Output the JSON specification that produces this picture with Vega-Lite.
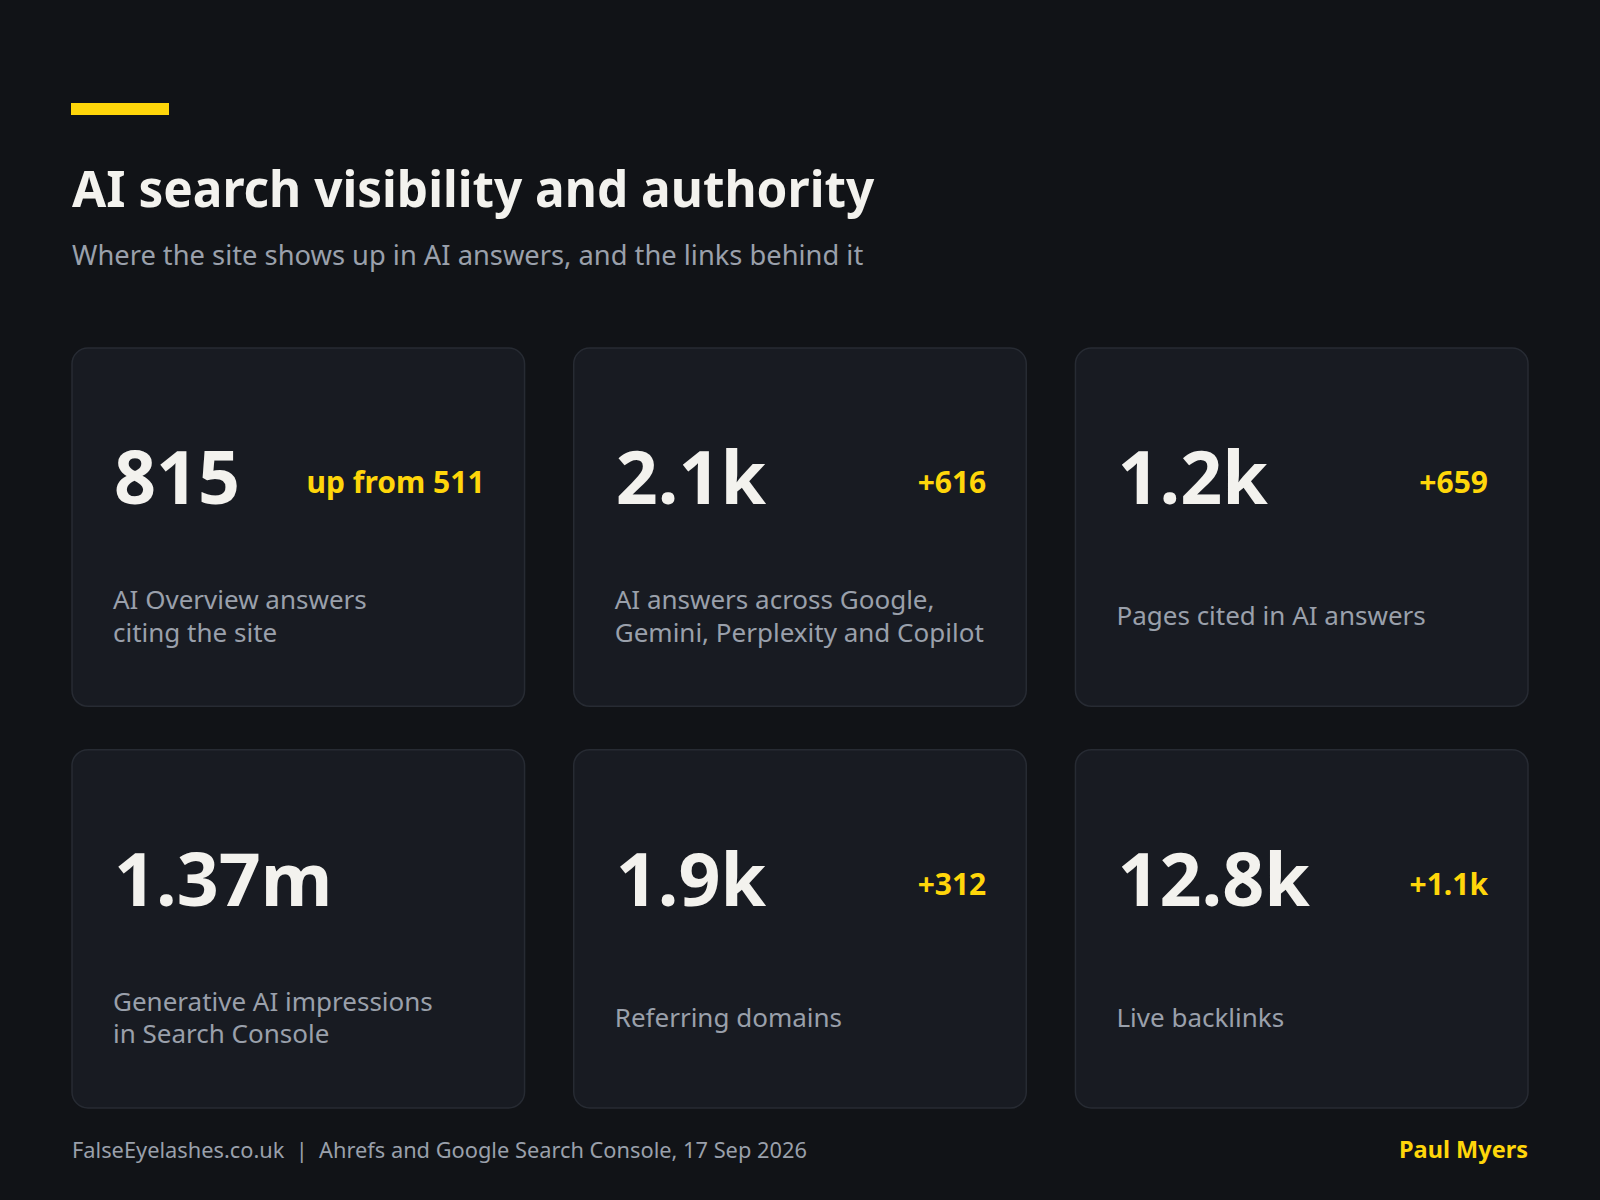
{
  "$schema": "https://vega.github.io/schema/vega-lite/v6.json",
  "width": 1600,
  "height": 1200,
  "padding": 0,
  "autosize": "none",
  "background": "#111317",
  "config": {
    "view": {"stroke": null},
    "font": "Noto Sans",
    "text": {"font": "Noto Sans"}
  },
  "datasets": {
    "cards": [
      {"col": 0, "row": 0, "value": "815", "delta": "up from 511", "label": "AI Overview answers\nciting the site"},
      {"col": 1, "row": 0, "value": "2.1k", "delta": "+616", "label": "AI answers across Google,\nGemini, Perplexity and Copilot"},
      {"col": 2, "row": 0, "value": "1.2k", "delta": "+659", "label": "Pages cited in AI answers"},
      {"col": 0, "row": 1, "value": "1.37m", "delta": "", "label": "Generative AI impressions\nin Search Console"},
      {"col": 1, "row": 1, "value": "1.9k", "delta": "+312", "label": "Referring domains"},
      {"col": 2, "row": 1, "value": "12.8k", "delta": "+1.1k", "label": "Live backlinks"}
    ],
    "heading": [
      {"title": "AI search visibility and authority",
       "subtitle": "Where the site shows up in AI answers, and the links behind it",
       "source": "FalseEyelashes.co.uk\u00a0\u00a0|\u00a0\u00a0Ahrefs and Google Search Console, 17 Sep 2026",
       "author": "Paul Myers"}
    ]
  },
  "layer": [
    {
      "data": {"name": "cards"},
      "mark": {"type": "rect", "fill": "#181b22", "stroke": "#272b33", "strokeWidth": 1.5, "cornerRadius": 16},
      "encoding": {
        "x": {"field": "col", "type": "ordinal", "axis": null,
              "scale": {"range": [72, 1528], "paddingInner": 0.098, "paddingOuter": 0}},
        "y": {"field": "row", "type": "ordinal", "axis": null,
              "scale": {"range": [348, 1108], "paddingInner": 0.108, "paddingOuter": 0}}
      }
    },
    {
      "data": {"name": "cards"},
      "mark": {"type": "text", "align": "left", "baseline": "alphabetic", "fontSize": 73.5, "fontWeight": "bold", "color": "#f3f2ee", "dx": 42, "dy": 156},
      "encoding": {
        "x": {"field": "col", "type": "ordinal", "bandPosition": 0},
        "y": {"field": "row", "type": "ordinal", "bandPosition": 0},
        "text": {"field": "value"}
      }
    },
    {
      "data": {"name": "cards"},
      "mark": {"type": "text", "align": "right", "baseline": "alphabetic", "fontSize": 30, "fontWeight": "bold", "color": "#ffd60a", "dx": -40, "dy": 145},
      "encoding": {
        "x": {"field": "col", "type": "ordinal", "bandPosition": 1},
        "y": {"field": "row", "type": "ordinal", "bandPosition": 0},
        "text": {"field": "delta"}
      }
    },
    {
      "data": {"name": "cards"},
      "transform": [{"filter": "indexof(datum.label, '\\n') < 0"}],
      "mark": {"type": "text", "align": "left", "baseline": "middle", "fontSize": 26, "color": "#9aa0ab", "dx": 41, "dy": 269},
      "encoding": {
        "x": {"field": "col", "type": "ordinal", "bandPosition": 0},
        "y": {"field": "row", "type": "ordinal", "bandPosition": 0},
        "text": {"field": "label"}
      }
    },
    {
      "data": {"name": "cards"},
      "transform": [{"filter": "indexof(datum.label, '\\n') >= 0"}],
      "mark": {"type": "text", "align": "left", "baseline": "middle", "fontSize": 26, "lineHeight": 32.5, "lineBreak": "\n", "color": "#9aa0ab", "dx": 41, "dy": 253},
      "encoding": {
        "x": {"field": "col", "type": "ordinal", "bandPosition": 0},
        "y": {"field": "row", "type": "ordinal", "bandPosition": 0},
        "text": {"field": "label"}
      }
    },
    {
      "data": {"name": "heading"},
      "mark": {"type": "rect", "color": "#ffd60a"},
      "encoding": {"x": {"value": 71}, "x2": {"value": 169}, "y": {"value": 103}, "y2": {"value": 115}}
    },
    {
      "data": {"name": "heading"},
      "mark": {"type": "text", "align": "left", "baseline": "alphabetic", "fontSize": 49.5, "fontWeight": "bold", "color": "#f3f2ee"},
      "encoding": {"x": {"value": 72}, "y": {"value": 207}, "text": {"field": "title"}}
    },
    {
      "data": {"name": "heading"},
      "mark": {"type": "text", "align": "left", "baseline": "alphabetic", "fontSize": 27.3, "color": "#9aa0ab"},
      "encoding": {"x": {"value": 72}, "y": {"value": 265}, "text": {"field": "subtitle"}}
    },
    {
      "data": {"name": "heading"},
      "mark": {"type": "text", "align": "left", "baseline": "alphabetic", "fontSize": 21.8, "color": "#9aa0ab"},
      "encoding": {"x": {"value": 72}, "y": {"value": 1158}, "text": {"field": "source"}}
    },
    {
      "data": {"name": "heading"},
      "mark": {"type": "text", "align": "right", "baseline": "alphabetic", "fontSize": 23.5, "fontWeight": "bold", "color": "#ffd60a"},
      "encoding": {"x": {"value": 1528}, "y": {"value": 1158}, "text": {"field": "author"}}
    }
  ],
  "resolve": {"scale": {"x": "shared", "y": "shared"}}
}
